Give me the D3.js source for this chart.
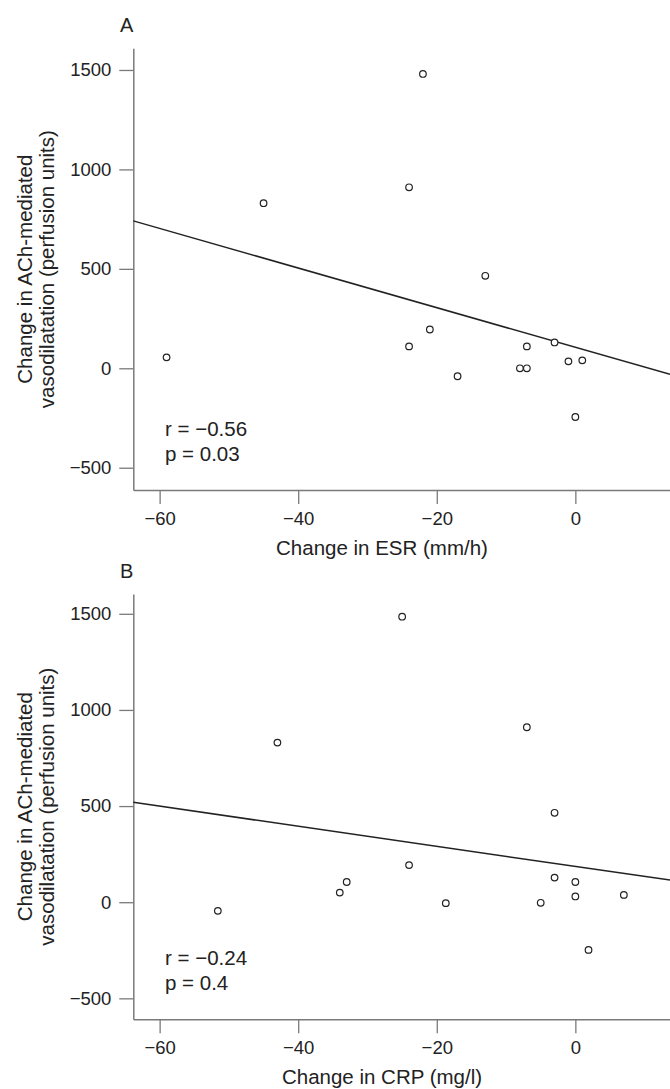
<!DOCTYPE html>
<html>
<head>
<meta charset="utf-8">
<script src="https://cdn.jsdelivr.net/npm/d3@7"></script>
<style>
  body { margin: 0; background: #fff; }
  svg { display: block; font-family: "Liberation Sans", Arial, sans-serif; }
</style>
</head>
<body>
<svg id="chart" width="670" height="1089"></svg>
<script>
// Panel A: change in ESR vs change in ACh-mediated vasodilatation
const esrX = [-59, -45, -24, -24, -22, -21, -17, -13, -8, -7, -7, -3, -1, 0, 1];
const esrY = [55, 830, 910, 110, 1480, 195, -40, 465, 0, 0, 110, 130, 35, -245, 40];

// Panel B: change in CRP vs change in ACh-mediated vasodilatation
const crpX = [-51.6, -43, -34, -33, -25, -24, -18.7, -7, -5, -3, -3, 0, 0, 1.9, 7];
const crpY = [-45, 830, 50, 105, 1485, 193, -5, 910, -3, 465, 128, 105, 30, -248, 38];

const xTicks = [-60, -40, -20, 0];
const yTicks = [-500, 0, 500, 1000, 1500];

const panels = [
  {label: 'A', xs: esrX, ys: esrY, xTitle: 'Change in ESR (mm/h)', stats: ['r = \u22120.56', 'p = 0.03'],
   top: 48.3, bottom: 490, yDomain: [-612, 1609]},
  {label: 'B', xs: crpX, ys: crpY, xTitle: 'Change in CRP (mg/l)', stats: ['r = \u22120.24', 'p = 0.4'],
   top: 594, bottom: 1019.3, yDomain: [-609, 1603]}
];

const svg = d3.select('#chart');
const left = 133.3, right = 670;
const axisColor = '#7a7a7a', ink = '#222';
const fmt = d3.format('d');

// least squares fit
function fit(xs, ys) {
  const mx = d3.mean(xs), my = d3.mean(ys);
  let sxy = 0, sxx = 0;
  xs.forEach((x, i) => { sxy += (x - mx) * (ys[i] - my); sxx += (x - mx) * (x - mx); });
  const b = sxy / sxx;
  return x => my + b * (x - mx);
}

panels.forEach(p => {
  const x = d3.scaleLinear().domain([-63.8, 13.66]).range([left, right]);
  const y = d3.scaleLinear().domain(p.yDomain).range([p.bottom, p.top]);
  const g = svg.append('g');

  // X axis
  const xa = g.append('g')
    .attr('transform', `translate(0,${p.bottom})`)
    .call(d3.axisBottom(x).tickValues(xTicks).tickFormat(fmt).tickSize(14).tickSizeOuter(0).tickPadding(8));
  // Y axis
  const ya = g.append('g')
    .attr('transform', `translate(${left},0)`)
    .call(d3.axisLeft(y).tickValues(yTicks).tickFormat(fmt).tickSize(14).tickSizeOuter(0).tickPadding(8));

  [xa, ya].forEach(a => {
    a.attr('font-size', null).attr('font-family', null);
    a.select('.domain').attr('stroke', axisColor).attr('stroke-width', 1.5);
    a.selectAll('.tick line').attr('stroke', axisColor).attr('stroke-width', 1.3);
    a.selectAll('.tick text').attr('fill', ink).style('font-size', '18.5px');
  });

  // regression line
  const f = fit(p.xs, p.ys);
  const [x0, x1] = x.domain();
  g.append('line')
    .attr('x1', x(x0)).attr('y1', y(f(x0)))
    .attr('x2', x(x1)).attr('y2', y(f(x1)))
    .attr('stroke', ink).attr('stroke-width', 1.5);

  // points
  g.selectAll('circle.pt')
    .data(p.xs.map((v, i) => [v, p.ys[i]]))
    .enter().append('circle')
    .attr('class', 'pt')
    .attr('cx', d => x(d[0]))
    .attr('cy', d => y(d[1]))
    .attr('r', 3.3)
    .attr('fill', '#fff')
    .attr('stroke', ink)
    .attr('stroke-width', 1.2);

  // panel label
  g.append('text').attr('x', 120).attr('y', p.top - 16)
    .attr('fill', ink).style('font-size', '20px').text(p.label);

  // r and p
  g.selectAll('text.stat')
    .data(p.stats)
    .enter().append('text')
    .attr('class', 'stat')
    .attr('x', 165)
    .attr('y', (d, i) => p.bottom - 54 + i * 25)
    .attr('fill', ink).style('font-size', '20.5px')
    .text(d => d);

  // x title
  g.append('text').attr('x', 382).attr('y', p.bottom + 65)
    .attr('text-anchor', 'middle').attr('fill', ink).style('font-size', '20.5px')
    .text(p.xTitle);

  // y title (two lines)
  const cy = (p.top + p.bottom) / 2;
  const yt = g.append('text')
    .attr('transform', `translate(32,${cy}) rotate(-90)`)
    .attr('text-anchor', 'middle').attr('fill', ink).style('font-size', '20.5px');
  yt.append('tspan').attr('x', 0).attr('y', 0).text('Change in ACh-mediated');
  yt.append('tspan').attr('x', 0).attr('y', 22).text('vasodilatation (perfusion units)');
});
</script>
</body>
</html>
